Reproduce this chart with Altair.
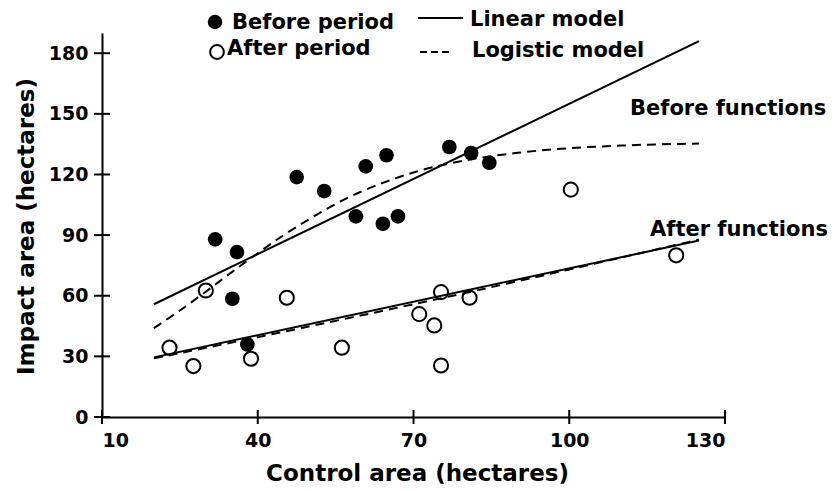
import altair as alt
import pandas as pd

# Observed areas (hectares): control site vs impact site
before_control = [31.8, 36.0, 35.1, 38.0, 47.5, 52.8, 58.9, 60.8, 64.1, 64.8, 67.0, 76.9, 81.1, 84.6]
before_impact = [87.9, 81.6, 58.5, 35.9, 118.7, 111.8, 99.3, 124.0, 95.6, 129.5, 99.3, 133.6, 130.6, 125.8]

after_control = [23.0, 27.6, 30.0, 38.7, 45.6, 56.2, 71.1, 74.0, 75.3, 80.8, 75.3, 100.3, 120.6]
after_impact = [34.3, 25.2, 62.6, 28.8, 59.0, 34.3, 50.9, 45.3, 61.8, 59.0, 25.5, 112.5, 80.0]

# Fitted model curves
before_linear_x = [20, 125]
before_linear_y = [55.8, 186.0]
before_logistic_x = [20, 25, 30, 35, 40, 45, 50, 55, 60, 65, 70, 80, 90, 100, 110, 125]
before_logistic_y = [44.0, 52.7, 62.0, 71.7, 81.0, 90.0, 98.0, 105.4, 111.6, 116.7, 121.0, 127.0, 130.7, 133.0, 134.3, 135.3]

after_linear_x = [20, 125]
after_linear_y = [29.5, 87.3]
after_logistic_x = [20, 40, 60, 80, 100, 125]
after_logistic_y = [29.0, 39.5, 50.3, 61.4, 73.0, 87.8]

x_ticks = [10, 40, 70, 100, 130]
y_ticks = [0, 30, 60, 90, 120, 150, 180]

FONT = "DejaVu Sans"
W, H = 623, 384

before_df = pd.DataFrame({"control": before_control, "impact": before_impact})
after_df = pd.DataFrame({"control": after_control, "impact": after_impact})

def curve(xs, ys, name):
    return pd.DataFrame({"control": xs, "impact": ys, "curve": name})

linear_df = pd.concat([curve(before_linear_x, before_linear_y, "before"),
                       curve(after_linear_x, after_linear_y, "after")])
logistic_df = pd.concat([curve(before_logistic_x, before_logistic_y, "before"),
                         curve(after_logistic_x, after_logistic_y, "after")])

x_scale = alt.Scale(domain=[10, 130], nice=False, zero=False)
y_scale = alt.Scale(domain=[0, 190], nice=False)

x_axis = alt.Axis(
    values=x_ticks, ticks=False, grid=False, labelPadding=14,
    title="Control area (hectares)", titleX=315, titleY=63,
    titleAlign="center", titleBaseline="alphabetic",
)
y_axis = alt.Axis(
    values=y_ticks, ticks=False, grid=False, labelPadding=14,
    title="Impact area (hectares)", titleX=-69, titleY=193, titleAngle=270,
    titleAlign="center", titleBaseline="alphabetic",
)

X = alt.X("control:Q", scale=x_scale, axis=x_axis)
Y = alt.Y("impact:Q", scale=y_scale, axis=y_axis)

linear = alt.Chart(linear_df).mark_line(color="black", strokeWidth=2).encode(
    x=X, y=Y, detail="curve:N"
)
logistic = alt.Chart(logistic_df).mark_line(
    color="black", strokeWidth=2, strokeDash=[9, 6], interpolate="monotone"
).encode(x=X, y=Y, detail="curve:N")

before_pts = alt.Chart(before_df).mark_point(
    shape="circle", filled=True, color="black", opacity=1, size=215
).encode(x=X, y=Y)
after_pts = alt.Chart(after_df).mark_point(
    shape="circle", filled=False, color="black", strokeWidth=2, opacity=1, size=200
).encode(x=X, y=Y)

# Crossing tick marks on both axes
y_tick_df = pd.DataFrame({"impact": y_ticks})
x_tick_df = pd.DataFrame({"control": x_ticks})
y_tick_marks = alt.Chart(y_tick_df).mark_rule(color="black", strokeWidth=2).encode(
    y=Y, x=alt.value(-8), x2=alt.value(8)
)
x_tick_marks = alt.Chart(x_tick_df).mark_rule(color="black", strokeWidth=2).encode(
    x=X, y=alt.value(H - 7), y2=alt.value(H + 7)
)

# Legend: symbols and line styles
filled_key = alt.Chart(pd.DataFrame({"k": [1]})).mark_point(
    shape="circle", filled=True, color="black", opacity=1, size=210
).encode(x=alt.value(113), y=alt.value(-11))
open_key = alt.Chart(pd.DataFrame({"k": [1]})).mark_point(
    shape="circle", filled=False, color="black", strokeWidth=2, opacity=1, size=190
).encode(x=alt.value(115), y=alt.value(19))
solid_key = alt.Chart(pd.DataFrame({"k": [1]})).mark_rule(color="black", strokeWidth=2).encode(
    x=alt.value(316), x2=alt.value(361), y=alt.value(-15)
)
dash_key = alt.Chart(pd.DataFrame({"k": [1]})).mark_rule(
    color="black", strokeWidth=2, strokeDash=[7, 4]
).encode(x=alt.value(318), x2=alt.value(347), y=alt.value(19))

def label(text, x, y, size=21):
    return alt.Chart(pd.DataFrame({"t": [text]})).mark_text(
        font=FONT, fontWeight="bold", fontSize=size, color="black",
        align="left", baseline="alphabetic"
    ).encode(text="t:N", x=alt.value(x), y=alt.value(y))

texts = [
    label("Before period", 130, -4),
    label("After period", 125, 22),
    label("Linear model", 368, -7),
    label("Logistic model", 370, 24),
    label("Before functions", 528, 82),
    label("After functions", 548, 203),
]

chart = alt.layer(
    linear, logistic, before_pts, after_pts, y_tick_marks, x_tick_marks,
    filled_key, open_key, solid_key, dash_key, *texts
).properties(
    width=W, height=H,
    autosize=alt.AutoSizeParams(type="none"),
    padding={"left": 102, "top": 33, "right": 113, "bottom": 74},
    background="white",
).configure_view(stroke=None).configure_axis(
    domainColor="black", domainWidth=2,
    labelFont=FONT, labelFontWeight="bold", labelFontSize=19, labelColor="black",
    titleFont=FONT, titleFontWeight="bold", titleFontSize=23, titleColor="black",
)

chart.save("out.html", embed_options={"renderer": "svg", "actions": False})
